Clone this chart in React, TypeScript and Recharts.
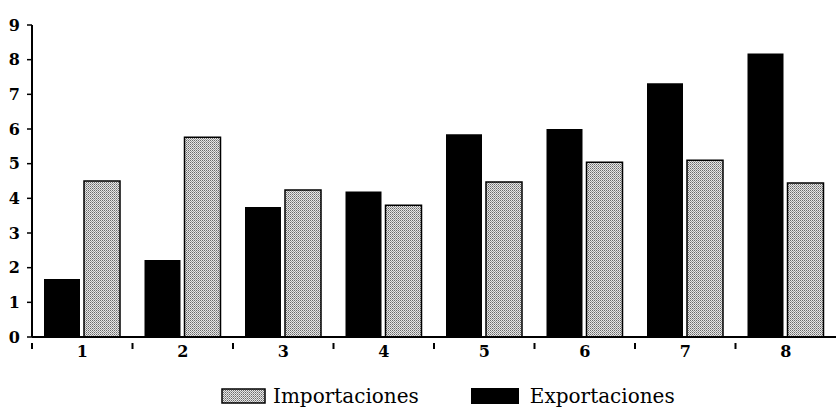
import { Bar, BarChart, XAxis, YAxis } from "recharts"

// values
const periods = ["1", "2", "3", "4", "5", "6", "7", "8"]
const exportaciones = [1.67, 2.22, 3.75, 4.2, 5.85, 6.0, 7.32, 8.18]
const importaciones = [4.5, 5.76, 4.24, 3.8, 4.47, 5.04, 5.1, 4.44]
const yTicks = [0, 1, 2, 3, 4, 5, 6, 7, 8, 9]

const data = periods.map((p, i) => ({
  period: p,
  exportaciones: exportaciones[i],
  importaciones: importaciones[i],
}))

const font = "'DejaVu Serif', serif"

// category label plus a small tick at the left edge of each band
const XTick = (props: any) => {
  const { x, y, payload, visibleTicksCount } = props
  const band = 804 / (visibleTicksCount || 8)
  return (
    <g>
      <line x1={x - band / 2} x2={x - band / 2} y1={y - 2} y2={y + 4} stroke="#000" strokeWidth={2} />
      <text x={x} y={y + 12} textAnchor="middle" fontFamily={font} fontSize={16} fontWeight="bold" fill="#000">
        {payload.value}
      </text>
    </g>
  )
}

export default function App() {
  return (
    <div style={{ position: "absolute", left: 0, top: 0, width: 836, height: 410, background: "#fff" }}>
      <BarChart
        width={836}
        height={410}
        data={data}
        margin={{ top: 25, right: 0, left: 0, bottom: 43 }}
        barSize={36}
        barGap={4}
      >
        <defs>
          <pattern id="dots" width={2} height={2} patternUnits="userSpaceOnUse">
            <rect width={2} height={2} fill="#e6e6e6" />
            <rect width={1} height={1} fill="#6a6a6a" />
            <rect x={1} y={1} width={1} height={1} fill="#9a9a9a" />
          </pattern>
        </defs>
        <XAxis
          dataKey="period"
          axisLine={{ stroke: "#000", strokeWidth: 2 }}
          tickLine={false}
          tick={<XTick />}
          interval={0}
          height={30}
        />
        <YAxis
          domain={[0, 9]}
          ticks={yTicks}
          width={32}
          axisLine={{ stroke: "#000", strokeWidth: 2 }}
          tickLine={{ stroke: "#000", strokeWidth: 1.5 }}
          tickSize={5}
          tickMargin={7}
          tick={{ fill: "#000", fontFamily: font, fontSize: 16, fontWeight: "bold" }}
        />
        <Bar dataKey="exportaciones" name="Exportaciones" fill="#000" isAnimationActive={false} />
        <Bar
          dataKey="importaciones"
          name="Importaciones"
          fill="url(#dots)"
          stroke="#000"
          strokeWidth={1.5}
          isAnimationActive={false}
        />
      </BarChart>
      <div
        style={{
          position: "absolute",
          top: 384,
          left: 221,
          height: 24,
          lineHeight: "24px",
          display: "flex",
          alignItems: "center",
          fontFamily: font,
          fontSize: 20,
          color: "#000",
          whiteSpace: "nowrap",
        }}
      >
        <svg width={45} height={16} style={{ marginRight: 7, display: "block" }}>
          <rect x={1} y={1} width={43} height={14} fill="url(#dots)" stroke="#000" strokeWidth={1.5} />
        </svg>
        <span style={{ marginRight: 52 }}>Importaciones</span>
        <svg width={48} height={16} style={{ marginRight: 11, display: "block" }}>
          <rect x={0} y={0} width={48} height={16} fill="#000" />
        </svg>
        <span>Exportaciones</span>
      </div>
    </div>
  )
}
